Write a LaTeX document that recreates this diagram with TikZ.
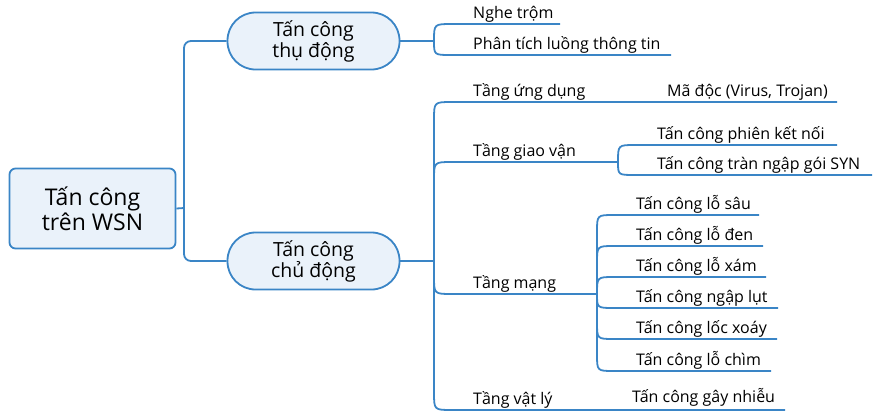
\documentclass[tikz,border=0pt]{standalone}
\usepackage{fontspec}
\setmainfont{Open Sans}
\definecolor{ln}{RGB}{58,133,198}
\definecolor{fl}{RGB}{234,242,250}
\begin{document}
\begin{tikzpicture}[x=1pt,y=-1pt,
  conn/.style={draw=ln,line width=1.8pt},
  pill/.style={draw=ln,line width=1.8pt,fill=fl,rounded corners=28pt,minimum width=172pt,minimum height=57pt,align=center,font=\fontsize{19.5}{21}\selectfont,inner sep=0pt},
  rootbox/.style={draw=ln,line width=1.8pt,fill=fl,rounded corners=6pt,minimum width=166pt,minimum height=80pt,align=center,font=\fontsize{23}{25}\selectfont,inner sep=0pt},
  lbl/.style={anchor=base west,inner sep=0pt,font=\fontsize{16}{18}\selectfont}]
\useasboundingbox (0,0) rectangle (873,413);
% main nodes
\node[rootbox] (root) at (92.5,208.5) {Tấn công\\trên WSN};
\node[pill] (pass) at (313.5,41) {Tấn công\\thụ động};
\node[pill] (act) at (313.5,261) {Tấn công\\chủ động};
% root connectors
\coordinate (rj) at (184,208);
\draw[conn] (root.east) -- (rj);
\draw[conn,rounded corners=7pt] (pass.west) -| (rj) |- (act.west);
% passive
\coordinate (pj) at (434,41);
\coordinate (n1e) at (560,24);
\coordinate (n2e) at (671,55);
\draw[conn] (pass.east) -- (pj);
\draw[conn] (pj) .. controls (434,24) .. (452,24) -- (n1e);
\draw[conn] (pj) .. controls (434,55) .. (451,55) -- (n2e);
\node[lbl] (n1) at (473,18) {Nghe trộm};
\node[lbl] (n2) at (473,49) {Phân tích luồng thông tin};
% active trunk
\coordinate (aj) at (434,261);
\draw[conn] (act.east) -- (aj);
\draw[conn] (434,120) -- (434,392);
\coordinate (a1e) at (837,102);
\coordinate (gj) at (618,162);
\coordinate (mj) at (597,294);
\coordinate (a4e) at (785,410);
\draw[conn] (434,120) .. controls (434,102) .. (452,102) -- (a1e);
\draw[conn] (434,180) .. controls (434,162) .. (452,162) -- (gj);
\draw[conn] (434,276) .. controls (434,294) .. (452,294) -- (mj);
\draw[conn] (434,392) .. controls (434,410) .. (452,410) -- (a4e);
\node[lbl] (a1) at (473,96) {Tầng ứng dụng};
\node[lbl] (a2) at (473,156) {Tầng giao vận};
\node[lbl] (a3) at (473,288) {Tầng mạng};
\node[lbl] (a4) at (473,404) {Tầng vật lý};
\node[lbl] (md) at (667,96) {Mã độc (Virus, Trojan)};
\node[lbl] (vl) at (632,402) {Tấn công gây nhiễu};
% giao van
\coordinate (g1e) at (837,145);
\coordinate (g2e) at (872,175);
\draw[conn] (gj) .. controls (618,145) .. (635,145) -- (g1e);
\draw[conn] (gj) .. controls (618,175) .. (635,175) -- (g2e);
\node[lbl] (g1) at (657,139) {Tấn công phiên kết nối};
\node[lbl] (g2) at (657,169) {Tấn công tràn ngập gói SYN};
% mang
\draw[conn] (597,232) -- (597,354);
\coordinate (m1e) at (759,215);
\coordinate (m2e) at (763,246);
\coordinate (m3e) at (766,277);
\coordinate (m4e) at (778,308);
\coordinate (m5e) at (777,339);
\coordinate (m6e) at (771,371);
\draw[conn] (597,232) .. controls (597,215) .. (614,215) -- (m1e);
\draw[conn] (597,263) .. controls (597,246) .. (614,246) -- (m2e);
\draw[conn] (mj) .. controls (597,277) .. (614,277) -- (m3e);
\draw[conn] (mj) .. controls (597,308) .. (614,308) -- (m4e);
\draw[conn] (597,322) .. controls (597,339) .. (614,339) -- (m5e);
\draw[conn] (597,354) .. controls (597,371) .. (614,371) -- (m6e);
\node[lbl] (m1) at (636,209) {Tấn công lỗ sâu};
\node[lbl] (m2) at (636,240) {Tấn công lỗ đen};
\node[lbl] (m3) at (636,271) {Tấn công lỗ xám};
\node[lbl] (m4) at (636,302) {Tấn công ngập lụt};
\node[lbl] (m5) at (636,333) {Tấn công lốc xoáy};
\node[lbl] (m6) at (636,365) {Tấn công lỗ chìm};
\end{tikzpicture}
\end{document}
